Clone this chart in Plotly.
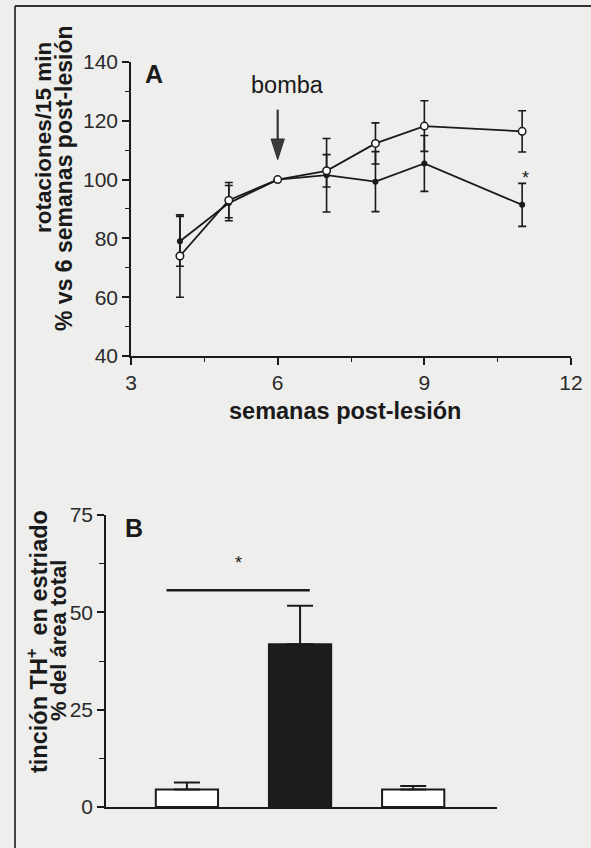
import plotly.graph_objects as go

# ---- Panel A data ----
weeks = [4, 5, 6, 7, 8, 9, 11]
open_vals = [74, 93, 100, 103, 112.3, 118.2, 116.4]
open_err = [14, 6, 0, 5.5, 7, 8.6, 7]
filled_vals = [79, 92, 100, 101.5, 99.3, 105.5, 91.4]
filled_err = [8.5, 6, 0, 12.5, 10.2, 9.5, 7.3]
x_ticks_a = [3, 6, 9, 12]
y_ticks_a = [40, 60, 80, 100, 120, 140]

# ---- Panel B data ----
groups = [0, 1, 2]
bar_vals = [4.5, 41.8, 4.5]
bar_err = [1.8, 9.9, 0.9]
bar_colors = ["white", "#1e1b1b", "white"]
y_ticks_b = [0, 25, 50, 75]

BG = "#eeeeec"
INK = "#1a1a1a"
FONT = "Liberation Sans, Arial, sans-serif"

fig = go.Figure()

fig.add_trace(go.Scatter(
    x=weeks, y=filled_vals, mode="lines+markers",
    line=dict(color=INK, width=1.8),
    marker=dict(color=INK, size=6, symbol="circle"),
    error_y=dict(type="data", array=filled_err, color=INK, thickness=1.6, width=4),
    xaxis="x", yaxis="y", showlegend=False))
fig.add_trace(go.Scatter(
    x=weeks, y=open_vals, mode="lines+markers",
    line=dict(color=INK, width=1.8),
    marker=dict(color="white", size=7.5, symbol="circle", line=dict(color=INK, width=1.5)),
    error_y=dict(type="data", array=open_err, color=INK, thickness=1.6, width=4),
    xaxis="x", yaxis="y", showlegend=False))

fig.add_trace(go.Bar(
    x=groups, y=bar_vals, width=0.55,
    marker=dict(color=bar_colors, line=dict(color=INK, width=2)),
    error_y=dict(type="data", symmetric=False, array=bar_err, arrayminus=[0, 0, 0],
                 color=INK, thickness=2, width=13),
    xaxis="x2", yaxis="y2", showlegend=False))

axis_common = dict(showgrid=False, zeroline=False, showline=True, linecolor=INK,
                   linewidth=1.6, ticks="outside", tickcolor=INK, tickwidth=1.5,
                   automargin=False,
                   tickfont=dict(family=FONT, size=21, color="#2a2a2a"))

fig.update_layout(
    width=591, height=848, margin=dict(l=0, r=0, t=0, b=0, pad=0),
    paper_bgcolor=BG, plot_bgcolor=BG,
    font=dict(family=FONT, color=INK),
    xaxis=dict(domain=[0.2217, 0.9662], range=[3, 12], tickvals=x_ticks_a,
               ticklen=7, minor=dict(dtick=1.5, tick0=3, ticks="outside", ticklen=4,
                                     tickcolor=INK, tickwidth=1.3),
               anchor="y", **axis_common),
    yaxis=dict(domain=[0.5802, 0.9269], range=[40, 140], tickvals=y_ticks_a,
               ticklen=7, minor=dict(dtick=10, tick0=40, ticks="outside", ticklen=4,
                                     tickcolor=INK, tickwidth=1.3),
               anchor="x", **axis_common),
    xaxis2=dict(domain=[0.1794, 0.841], range=[-0.715, 2.741], showticklabels=False,
                anchor="y2", showgrid=False, zeroline=False, showline=True,
                automargin=False, linecolor=INK, linewidth=1.8, ticks=""),
    yaxis2=dict(domain=[0.0483, 0.3927], range=[0, 75], tickvals=y_ticks_b,
                ticklen=7, minor=dict(dtick=12.5, tick0=0, ticks="outside", ticklen=5,
                                      tickcolor=INK, tickwidth=1.3),
                anchor="x2", **axis_common),
)

ARROW_X = 6
ARROW_TAIL = 123.8
ARROW_TIP = 106.8
HEAD_LEN = 7.0
HEAD_HALF = 0.135
SIG_X0, SIG_X1, SIG_Y = -0.18, 1.086, 55.7

shapes = [
    dict(type="line", xref="x", yref="y", x0=ARROW_X, x1=ARROW_X,
         y0=ARROW_TAIL, y1=ARROW_TIP + HEAD_LEN - 0.5, line=dict(color="#333", width=2.2)),
    dict(type="path", xref="x", yref="y",
         path=f"M {ARROW_X - HEAD_HALF},{ARROW_TIP + HEAD_LEN} L {ARROW_X + HEAD_HALF},{ARROW_TIP + HEAD_LEN} "
              f"L {ARROW_X},{ARROW_TIP} Z",
         fillcolor="#3a3a3a", line=dict(color="#2a2a2a", width=1)),
    dict(type="line", xref="x2", yref="y2", x0=SIG_X0, x1=SIG_X1, y0=SIG_Y, y1=SIG_Y,
         line=dict(color=INK, width=2.5)),
    dict(type="line", xref="paper", yref="paper", x0=15/591, x1=15/591, y0=0, y1=1-6/848,
         line=dict(color="#444", width=2)),
    dict(type="line", xref="paper", yref="paper", x0=15/591, x1=1, y0=1-6/848, y1=1-6/848,
         line=dict(color="#333", width=2)),
]
fig.update_layout(shapes=shapes)

def px(xp, yp):
    return xp / 591, 1 - yp / 848

annots = []
def add_text(text, xp, yp, size, bold=False, angle=0):
    x, y = px(xp, yp)
    annots.append(dict(text=f"<b>{text}</b>" if bold else text, x=x, y=y,
                       xref="paper", yref="paper", showarrow=False, textangle=angle,
                       xanchor="center", yanchor="middle",
                       font=dict(family=FONT, size=size, color=INK)))

add_text("rotaciones/15 min", 43, 138, 22.5, bold=True, angle=-90)
add_text("% vs 6 semanas post-lesión", 64, 178, 23, bold=True, angle=-90)
add_text("semanas post-lesión", 345, 411, 23.5, bold=True)
add_text("A", 154, 74, 25, bold=True)
add_text("bomba", 287, 85, 23.5)
add_text("*", 525, 178, 18)
add_text("tinción TH<sup>+</sup>  en estriado", 37, 642, 23.5, bold=True, angle=-90)
add_text("% del área total", 58, 640, 22, bold=True, angle=-90)
add_text("B", 134, 528, 25, bold=True)
add_text("*", 238, 563, 18)
fig.update_layout(annotations=annots)

fig.write_html("out.html", config={"displayModeBar": False},
               post_script="document.body.style.margin='0';document.body.style.overflow='hidden';")
